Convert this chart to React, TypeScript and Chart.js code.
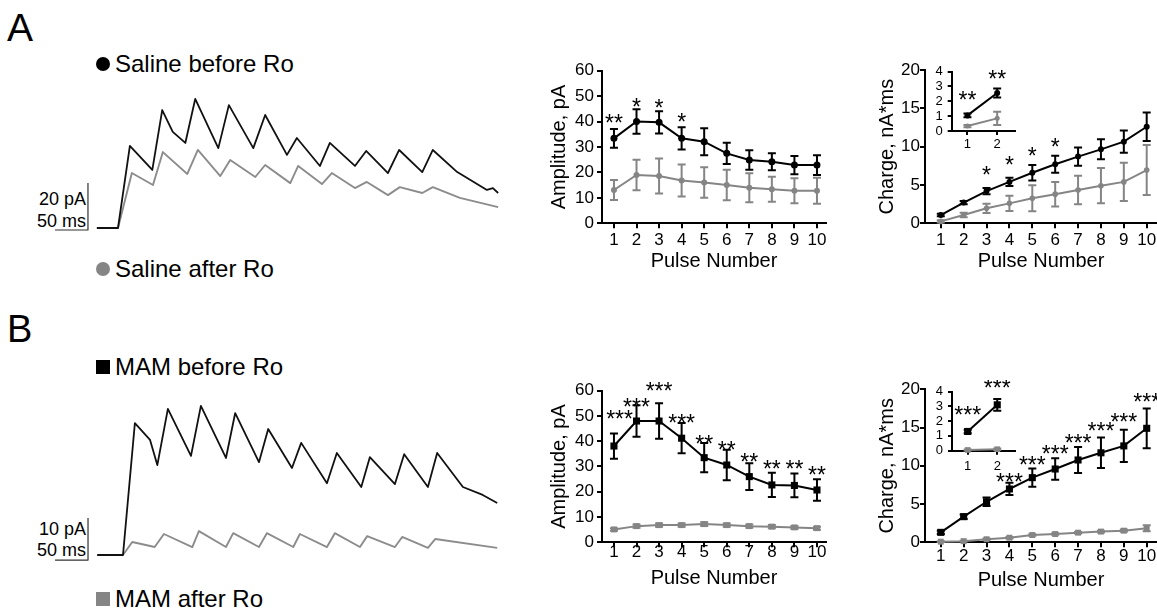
import React, { useEffect, useRef } from "react";
import { Chart, registerables } from "chart.js";
Chart.register(...registerables);

const FONT = "'Liberation Sans', Arial, Helvetica, sans-serif";
const INK = "#000000";
const GREY = "#858585";
const TRACE_GREY = "#8c8c8c";

// ---------------- data ----------------
const pulses = [1, 2, 3, 4, 5, 6, 7, 8, 9, 10];
const insetPulses = [1, 2];

// Panel A – Saline amplitude (pA)
const ampSalineBefore = [33.4, 40.0, 39.7, 33.4, 32.1, 27.5, 24.9, 24.2, 22.9, 22.9];
const ampSalineBeforeErr = [3.7, 4.8, 4.4, 4.4, 5.3, 4.2, 3.8, 3.3, 3.6, 3.9];
const ampSalineAfter = [13.1, 19.0, 18.6, 16.8, 16.0, 15.1, 14.0, 13.4, 12.8, 12.8];
const ampSalineAfterErr = [3.9, 6.0, 6.9, 6.3, 6.0, 6.0, 5.7, 4.9, 4.9, 5.1];
const ampSalineStars = ["**", "*", "*", "*", "", "", "", "", "", ""];
const ampSalineStarX = [1, 2, 3, 4, 5, 6, 7, 8, 9, 10];
const ampSalineStarLevel = [41.4, 47.7, 47.3, 41.8, 0, 0, 0, 0, 0, 0];

// Panel A – Saline charge (nA*ms)
const chargeSalineBefore = [1.08, 2.7, 4.2, 5.4, 6.6, 7.7, 8.7, 9.65, 10.65, 12.6];
const chargeSalineBeforeErr = [0.15, 0.2, 0.4, 0.55, 1.0, 1.1, 1.2, 1.3, 1.45, 1.85];
const chargeSalineAfter = [0.25, 1.08, 1.96, 2.6, 3.26, 3.8, 4.35, 4.9, 5.4, 6.95];
const chargeSalineAfterErr = [0.15, 0.3, 0.6, 1.0, 1.7, 1.6, 1.85, 2.3, 2.5, 3.25];
const chargeSalineStars = ["", "", "*", "*", "*", "*", "", "", "", ""];
const chargeSalineStarX = [1, 2, 3, 4, 5, 6, 7, 8, 9, 10];
const chargeSalineStarLevel = [0, 0, 6.95, 8.26, 9.47, 10.65, 0, 0, 0, 0];

// Panel A – inset (first two pulses)
const insetSalineBefore = [1.05, 2.55];
const insetSalineBeforeErr = [0.12, 0.3];
const insetSalineAfter = [0.33, 0.85];
const insetSalineAfterErr = [0.08, 0.45];
const insetSalineStars = ["**", "**"];
const insetSalineStarLevel = [2.47, 3.85];

// Panel B – MAM amplitude (pA)
const ampMamBefore = [38.1, 48.0, 48.0, 41.2, 33.5, 30.6, 26.0, 22.7, 22.5, 20.7];
const ampMamBeforeErr = [5.0, 6.2, 7.0, 6.0, 5.8, 6.0, 5.3, 4.8, 4.7, 4.3];
const ampMamAfter = [5.1, 6.4, 6.8, 6.8, 7.2, 6.8, 6.4, 6.2, 5.9, 5.6];
const ampMamAfterErr = [0.5, 0.6, 0.6, 0.6, 0.7, 0.6, 0.6, 0.6, 0.6, 0.6];
const ampMamStars = ["***", "***", "***", "***", "**", "**", "**", "**", "**", "**"];
const ampMamStarX = [1.25, 2, 3, 4, 5, 6, 7, 8, 9, 10];
const ampMamStarLevel = [51.0, 55.6, 61.9, 49.2, 41.2, 38.5, 33.8, 31.3, 31.3, 28.6];

// Panel B – MAM charge (nA*ms)
const chargeMamBefore = [1.3, 3.35, 5.3, 6.97, 8.45, 9.58, 10.76, 11.7, 12.6, 14.9];
const chargeMamBeforeErr = [0.2, 0.3, 0.55, 0.8, 1.2, 1.4, 1.7, 2.0, 2.1, 2.6];
const chargeMamAfter = [0.08, 0.15, 0.4, 0.6, 0.95, 1.08, 1.26, 1.4, 1.52, 1.83];
const chargeMamAfterErr = [0.05, 0.05, 0.1, 0.1, 0.1, 0.1, 0.1, 0.12, 0.15, 0.4];
const chargeMamStars = ["", "", "", "***", "***", "***", "***", "***", "***", "***"];
const chargeMamStarX = [1, 2, 3, 4, 5, 6, 7, 8, 9, 10];
const chargeMamStarLevel = [0, 0, 0, 8.58, 10.76, 12.2, 13.67, 15.2, 16.4, 19.0];

// Panel B – inset
const insetMamBefore = [1.3, 3.1];
const insetMamBeforeErr = [0.12, 0.4];
const insetMamAfter = [0.05, 0.1];
const insetMamAfterErr = [0.03, 0.05];
const insetMamStars = ["***", "***"];
const insetMamStarLevel = [2.75, 4.6];

// Example current traces (time in ms from first pulse, current in pA)
const traceSalineBeforeMs = [-32, 0, 18, 52, 67, 83, 102, 117, 152, 168, 205, 223, 256, 271, 306, 321, 359, 376, 409, 426, 461, 477, 514, 559, 568, 576];
const traceSalineBeforePa = [0, 0, 34.9, 24.7, 50.2, 40.9, 36.2, 54.9, 34.0, 52.3, 34.0, 48.1, 31.1, 38.3, 26.4, 36.2, 26.4, 32.8, 23.4, 33.2, 23.8, 33.2, 23.8, 16.2, 17.0, 14.9];
const traceSalineAfterMs = [-32, 0, 21, 53, 68, 105, 121, 155, 170, 208, 223, 261, 273, 309, 324, 359, 377, 409, 427, 461, 477, 518, 576];
const traceSalineAfterPa = [0, 0, 23.4, 18.3, 32.3, 23.0, 33.2, 22.1, 28.9, 21.7, 26.8, 19.1, 26.4, 18.7, 23.4, 17.0, 19.6, 14.0, 17.4, 14.9, 17.4, 12.8, 8.9];
const traceMamBeforeMs = [-39, 0, 18, 41, 52, 68, 103, 118, 156, 170, 206, 220, 256, 270, 309, 324, 361, 374, 412, 426, 462, 476, 515, 545, 567];
const traceMamBeforePa = [0, 0, 31.4, 27.4, 21.4, 34.8, 23.6, 35.5, 23.1, 33.8, 22.1, 30.0, 20.7, 26.7, 17.1, 24.3, 16.2, 23.3, 16.9, 24.0, 16.2, 24.3, 16.2, 14.3, 12.4];
const traceMamAfterMs = [-39, 0, 14, 48, 62, 105, 115, 156, 167, 206, 218, 258, 268, 309, 321, 359, 370, 412, 423, 462, 473, 567];
const traceMamAfterPa = [0, 0, 3.1, 1.9, 5.0, 1.9, 5.7, 1.9, 5.2, 1.9, 5.2, 1.9, 5.0, 1.9, 5.2, 1.9, 4.5, 1.9, 4.3, 1.7, 3.8, 1.7];

// Scale bars (L-shape: 50 ms horizontal, N pA vertical)
const scaleBarSalineMs = [-95.5, -45.5, -45.5];
const scaleBarSalinePa = [-0.85, -0.85, 19.15];
const scaleBarMamMs = [-103, -53, -53];
const scaleBarMamPa = [-1.2, -1.2, 8.8];

// ---------------- helpers ----------------
type Rect = { x: number; y: number; w: number; h: number };
type Area = { l: number; t: number; r: number; b: number };

const pts = (xs: number[], ys: number[]) => xs.map((x, i) => ({ x, y: ys[i] }));

function series(xs: number[], ys: number[], errs: number[] | null, color: string, style: string, radius: number, width = 2) {
  return {
    data: pts(xs, ys),
    errors: errs,
    borderColor: color,
    backgroundColor: color,
    borderWidth: width,
    showLine: true,
    pointStyle: style,
    pointRadius: radius,
    pointBorderWidth: 0,
    pointHoverRadius: radius,
    clip: false,
    tension: 0,
  };
}

const errorBarPlugin = {
  id: "errorBars",
  afterDatasetDraw(chart: any, args: any) {
    const ds = chart.data.datasets[args.index];
    const errs: number[] | null = ds.errors;
    if (!errs) return;
    const ctx = chart.ctx;
    const xs = chart.scales.x;
    const ys = chart.scales.y;
    const cap = ds.capWidth ?? 8;
    ctx.save();
    ctx.strokeStyle = ds.borderColor;
    ctx.lineWidth = 2;
    ds.data.forEach((p: any, i: number) => {
      const e = errs[i];
      if (!e) return;
      const x = xs.getPixelForValue(p.x);
      const yTop = ys.getPixelForValue(p.y + e);
      const yBot = ys.getPixelForValue(p.y - e);
      ctx.beginPath();
      ctx.moveTo(x, yBot);
      ctx.lineTo(x, yTop);
      ctx.moveTo(x - cap / 2, yTop);
      ctx.lineTo(x + cap / 2, yTop);
      ctx.moveTo(x - cap / 2, yBot);
      ctx.lineTo(x + cap / 2, yBot);
      ctx.stroke();
    });
    ctx.restore();
  },
};

function starPlugin(labels: string[], xs: number[], levels: number[], size: number) {
  return {
    id: "stars",
    afterDatasetsDraw(chart: any) {
      const ctx = chart.ctx;
      ctx.save();
      ctx.font = `${size}px ${FONT}`;
      ctx.textAlign = "center";
      ctx.textBaseline = "alphabetic";
      ctx.fillStyle = INK;
      labels.forEach((s, i) => {
        if (!s) return;
        const x = chart.scales.x.getPixelForValue(xs[i]);
        const y = chart.scales.y.getPixelForValue(levels[i]) + 0.585 * size;
        ctx.fillText(s, x, y);
      });
      ctx.restore();
    },
  };
}

type PanelSpec = {
  rect: Rect;
  area: Area;
  datasets: any[];
  xMin: number;
  xMax: number;
  xTicks: number[];
  yMin: number;
  yMax: number;
  yStep: number;
  yTitle?: string;
  xTitle?: string;
  tickSize: number;
  yTick: { tl: number; pad: number };
  xTick: { tl: number; pad: number };
  yTitlePad?: number;
  xTitlePad?: number;
  stars: any;
};

function panelConfig(p: PanelSpec) {
  const yWidth = p.area.l - p.rect.x;
  const xHeight = p.rect.y + p.rect.h - p.area.b;
  const axisCommon = (tl: number) => ({
    grid: { display: true, drawOnChartArea: false, drawTicks: true, tickLength: tl, color: INK, lineWidth: 2 },
    border: { display: true, color: INK, width: 2 },
  });
  return {
    type: "scatter",
    data: { datasets: p.datasets },
    options: {
      responsive: false,
      animation: false,
      devicePixelRatio: 1,
      events: [],
      layout: { padding: { left: 0, top: p.area.t - p.rect.y, right: p.rect.x + p.rect.w - p.area.r, bottom: 0 } },
      plugins: { legend: { display: false }, tooltip: { enabled: false } },
      scales: {
        x: {
          type: "linear",
          min: p.xMin,
          max: p.xMax,
          afterBuildTicks: (s: any) => {
            s.ticks = p.xTicks.map((v) => ({ value: v }));
          },
          afterFit: (s: any) => {
            s.height = xHeight;
          },
          ...axisCommon(p.xTick.tl),
          ticks: { padding: p.xTick.pad, color: INK, font: { family: FONT, size: p.tickSize, lineHeight: 1.2 }, maxRotation: 0, autoSkip: false },
          title: {
            display: !!p.xTitle,
            text: p.xTitle || "",
            color: INK,
            font: { family: FONT, size: 20, lineHeight: 1.2 },
            padding: { top: 0, bottom: p.xTitlePad ?? 0 },
          },
        },
        y: {
          type: "linear",
          min: p.yMin,
          max: p.yMax,
          afterFit: (s: any) => {
            s.width = yWidth;
          },
          ...axisCommon(p.yTick.tl),
          ticks: {
            stepSize: p.yStep,
            padding: p.yTick.pad,
            color: INK,
            autoSkip: false,
            font: { family: FONT, size: p.tickSize, lineHeight: 1 },
          },
          title: {
            display: !!p.yTitle,
            text: p.yTitle || "",
            color: INK,
            font: { family: FONT, size: 20, lineHeight: 1.2 },
            padding: { top: p.yTitlePad ?? 0, bottom: 0 },
          },
        },
      },
    },
    plugins: [errorBarPlugin, p.stars],
  };
}

function traceConfig(rect: Rect, xMin: number, xMax: number, yMin: number, yMax: number, datasets: any[]) {
  return {
    type: "scatter",
    data: { datasets },
    options: {
      responsive: false,
      animation: false,
      devicePixelRatio: 1,
      events: [],
      layout: { padding: 0 },
      plugins: { legend: { display: false }, tooltip: { enabled: false } },
      scales: {
        x: { type: "linear", display: false, min: xMin, max: xMax },
        y: { type: "linear", display: false, min: yMin, max: yMax },
      },
    },
  };
}

function traceLine(xs: number[], ys: number[], color: string, width: number) {
  return {
    data: pts(xs, ys),
    borderColor: color,
    borderWidth: width,
    showLine: true,
    pointRadius: 0,
    clip: false,
    tension: 0,
    borderJoinStyle: "round",
  };
}

function ChartBox({ rect, make }: { rect: Rect; make: () => any }) {
  const ref = useRef<HTMLCanvasElement>(null);
  useEffect(() => {
    const chart = new Chart(ref.current as HTMLCanvasElement, make());
    return () => chart.destroy();
  }, []);
  return (
    <canvas
      ref={ref}
      width={rect.w}
      height={rect.h}
      style={{ position: "absolute", left: rect.x, top: rect.y, width: rect.w, height: rect.h }}
    />
  );
}

// ---------------- layout ----------------
const rTraceA: Rect = { x: 40, y: 80, w: 470, h: 170 };
const rTraceB: Rect = { x: 40, y: 380, w: 470, h: 200 };
const rAmpA: Rect = { x: 520, y: 55, w: 320, h: 225 };
const rAmpB: Rect = { x: 520, y: 375, w: 320, h: 225 };
const rChargeA: Rect = { x: 850, y: 55, w: 330, h: 225 };
const rChargeB: Rect = { x: 850, y: 375, w: 330, h: 225 };
const rInsetA: Rect = { x: 925, y: 60, w: 100, h: 92 };
const rInsetB: Rect = { x: 925, y: 380, w: 100, h: 92 };

const makeTraceA = () =>
  traceConfig(rTraceA, -118.18, 593.94, -9.362, 62.979, [
    traceLine(traceSalineBeforeMs, traceSalineBeforePa, "#111", 1.8),
    traceLine(traceSalineAfterMs, traceSalineAfterPa, TRACE_GREY, 1.9),
    traceLine(scaleBarSalineMs, scaleBarSalinePa, "#333", 1.2),
  ]);

const makeTraceB = () =>
  traceConfig(rTraceB, -125.76, 586.36, -5.952, 41.667, [
    traceLine(traceMamBeforeMs, traceMamBeforePa, "#111", 1.8),
    traceLine(traceMamAfterMs, traceMamAfterPa, TRACE_GREY, 1.9),
    traceLine(scaleBarMamMs, scaleBarMamPa, "#333", 1.2),
  ]);

const STAR = 23;

const makeAmpA = () =>
  panelConfig({
    rect: rAmpA,
    area: { l: 602, t: 70.7, r: 826, b: 223.3 },
    datasets: [
      series(pulses, ampSalineBefore, ampSalineBeforeErr, INK, "circle", 3.5),
      series(pulses, ampSalineAfter, ampSalineAfterErr, GREY, "circle", 3),
    ],
    xMin: 0.47, xMax: 10.4, xTicks: pulses,
    yMin: 0, yMax: 60, yStep: 10,
    yTitle: "Amplitude, pA", xTitle: "Pulse Number",
    tickSize: 17, yTick: { tl: 5, pad: 3 }, xTick: { tl: 5, pad: 2 },
    yTitlePad: 27, xTitlePad: 7,
    stars: starPlugin(ampSalineStars, ampSalineStarX, ampSalineStarLevel, STAR),
  });

const makeAmpB = () =>
  panelConfig({
    rect: rAmpB,
    area: { l: 602, t: 390.7, r: 826, b: 542.3 },
    datasets: [
      series(pulses, ampMamBefore, ampMamBeforeErr, INK, "rect", 5),
      series(pulses, ampMamAfter, ampMamAfterErr, GREY, "rect", 4.2),
    ],
    xMin: 0.47, xMax: 10.4, xTicks: pulses,
    yMin: 0, yMax: 60, yStep: 10,
    yTitle: "Amplitude, pA", xTitle: "Pulse Number",
    tickSize: 17, yTick: { tl: 5, pad: 3 }, xTick: { tl: 5, pad: -5 },
    yTitlePad: 27, xTitlePad: 10,
    stars: starPlugin(ampMamStars, ampMamStarX, ampMamStarLevel, STAR),
  });

const makeChargeA = () =>
  panelConfig({
    rect: rChargeA,
    area: { l: 925, t: 70, r: 1157, b: 223.3 },
    datasets: [
      series(pulses, chargeSalineBefore, chargeSalineBeforeErr, INK, "circle", 3),
      series(pulses, chargeSalineAfter, chargeSalineAfterErr, GREY, "circle", 2.8),
    ],
    xMin: 0.31, xMax: 10.45, xTicks: pulses,
    yMin: 0, yMax: 20, yStep: 5,
    yTitle: "Charge, nA*ms", xTitle: "Pulse Number",
    tickSize: 17, yTick: { tl: 5, pad: 0 }, xTick: { tl: 5, pad: 2 },
    yTitlePad: 25, xTitlePad: 7,
    stars: starPlugin(chargeSalineStars, chargeSalineStarX, chargeSalineStarLevel, STAR),
  });

const makeChargeB = () =>
  panelConfig({
    rect: rChargeB,
    area: { l: 925, t: 389.3, r: 1157, b: 542.3 },
    datasets: [
      series(pulses, chargeMamBefore, chargeMamBeforeErr, INK, "rect", 5),
      series(pulses, chargeMamAfter, chargeMamAfterErr, GREY, "rect", 4.2),
    ],
    xMin: 0.31, xMax: 10.45, xTicks: pulses,
    yMin: 0, yMax: 20, yStep: 5,
    yTitle: "Charge, nA*ms", xTitle: "Pulse Number",
    tickSize: 17, yTick: { tl: 5, pad: 0 }, xTick: { tl: 5, pad: -1 },
    yTitlePad: 25, xTitlePad: 8,
    stars: starPlugin(chargeMamStars, chargeMamStarX, chargeMamStarLevel, STAR),
  });

const makeInsetA = () =>
  panelConfig({
    rect: rInsetA,
    area: { l: 951.7, t: 70, r: 1015, b: 131 },
    datasets: [
      series(insetPulses, insetSalineBefore, insetSalineBeforeErr, INK, "circle", 3),
      series(insetPulses, insetSalineAfter, insetSalineAfterErr, GREY, "circle", 2.5),
    ],
    xMin: 0.47, xMax: 2.6, xTicks: insetPulses,
    yMin: 0, yMax: 4, yStep: 1,
    tickSize: 13, yTick: { tl: 4, pad: 5 }, xTick: { tl: 4, pad: 1.5 },
    stars: starPlugin(insetSalineStars, insetPulses, insetSalineStarLevel, STAR),
  });

const makeInsetB = () =>
  panelConfig({
    rect: rInsetB,
    area: { l: 952, t: 390, r: 1015, b: 450.7 },
    datasets: [
      series(insetPulses, insetMamBefore, insetMamBeforeErr, INK, "rect", 5),
      series(insetPulses, insetMamAfter, insetMamAfterErr, GREY, "rect", 4),
    ],
    xMin: 0.47, xMax: 2.6, xTicks: insetPulses,
    yMin: 0, yMax: 4, yStep: 1,
    tickSize: 13, yTick: { tl: 4, pad: 5 }, xTick: { tl: 4, pad: 3.8 },
    stars: starPlugin(insetMamStars, insetPulses, insetMamStarLevel, STAR),
  });

// ---------------- text ----------------
const abs = (left: number, top: number, size: number, extra: any = {}) => ({
  position: "absolute" as const,
  left,
  top,
  fontSize: size,
  lineHeight: `${size}px`,
  whiteSpace: "nowrap" as const,
  color: INK,
  ...extra,
});

function Legend({ top, label, color, shape }: { top: number; label: string; color: string; shape: "circle" | "square" }) {
  return (
    <div style={abs(0, top, 24)}>
      <span
        style={{
          position: "absolute",
          left: 95.5,
          top: 5,
          width: 14,
          height: 14,
          background: color,
          borderRadius: shape === "circle" ? "50%" : 0,
        }}
      />
      <span style={{ position: "absolute", left: 115, top: 0 }}>{label}</span>
    </div>
  );
}

export default function App() {
  return (
    <div
      style={{
        position: "absolute",
        left: 0,
        top: 0,
        width: 1157,
        height: 608,
        overflow: "hidden",
        background: "#fff",
        fontFamily: FONT,
      }}
    >
      <div style={abs(7, 8, 39)}>A</div>
      <div style={abs(7, 310, 38)}>B</div>

      <Legend top={52.3} label="Saline before Ro" color={INK} shape="circle" />
      <Legend top={256.6} label="Saline after Ro" color={GREY} shape="circle" />
      <Legend top={354.5} label="MAM before Ro" color={INK} shape="square" />
      <Legend top={586.6} label="MAM after Ro" color={GREY} shape="square" />

      <div style={abs(0, 190.2, 18, { width: 86, textAlign: "right" })}>20 pA</div>
      <div style={abs(0, 211.7, 18, { width: 86, textAlign: "right" })}>50 ms</div>
      <div style={abs(0, 519.5, 18, { width: 86, textAlign: "right" })}>10 pA</div>
      <div style={abs(0, 541.2, 18, { width: 86, textAlign: "right" })}>50 ms</div>

      <ChartBox rect={rTraceA} make={makeTraceA} />
      <ChartBox rect={rTraceB} make={makeTraceB} />
      <ChartBox rect={rAmpA} make={makeAmpA} />
      <ChartBox rect={rAmpB} make={makeAmpB} />
      <ChartBox rect={rChargeA} make={makeChargeA} />
      <ChartBox rect={rChargeB} make={makeChargeB} />
      <ChartBox rect={rInsetA} make={makeInsetA} />
      <ChartBox rect={rInsetB} make={makeInsetB} />
    </div>
  );
}
